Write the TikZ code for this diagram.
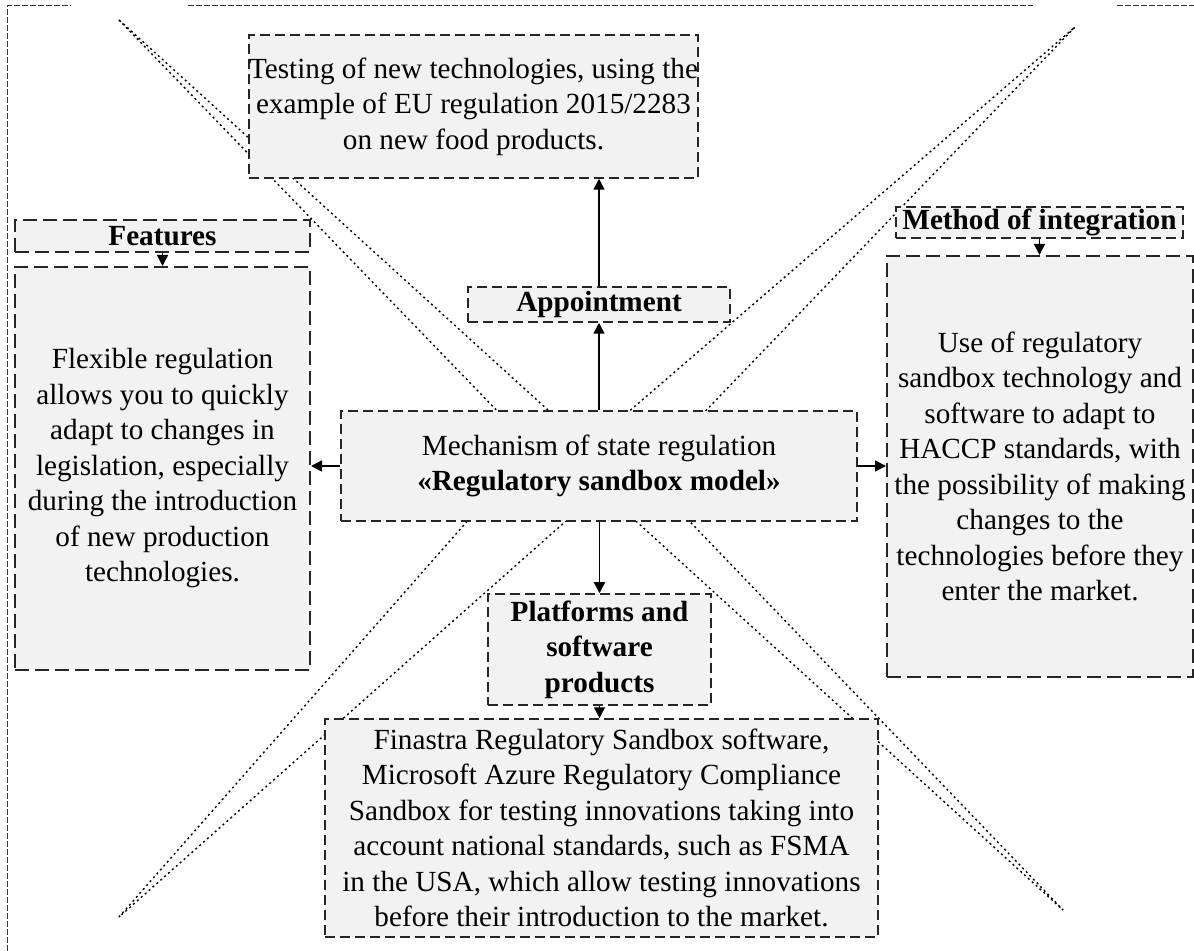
\documentclass[tikz,border=0pt]{standalone}
\usepackage{fontspec}
\setmainfont{Liberation Serif}
\usetikzlibrary{arrows.meta}
\definecolor{boxfill}{HTML}{F2F2F2}
\begin{document}
\begin{tikzpicture}[x=0.5pt,y=-0.5pt,
  every node/.style={font=\fontsize{14.6pt}{17.75pt}\selectfont},
  box/.style={draw=black!85, fill=boxfill, line width=0.75pt, dash pattern=on 5pt off 2.5pt, inner sep=0pt, align=center},
  bigbox/.style={box, line width=1pt, dash pattern=on 7pt off 3pt},
  arr/.style={line width=0.75pt, -{Triangle[length=5.5pt,width=5.5pt]}},
  diag/.style={line width=0.7pt, dash pattern=on 1pt off 1.6pt},
  border/.style={line width=0.5pt, black!80, dash pattern=on 3pt off 1pt}]
\useasboundingbox (0,0) rectangle (1194,951);
% outer border fragments
\draw[border] (7,951) -- (7,6) -- (71,6);
\draw[border] (188,6) -- (1033,6);
\draw[border] (1117,6) -- (1194,6);
% diagonal wedges
\draw[diag] (536,451) -- (118,19) -- (593,451);
\draw[diag] (583,451) -- (1075,27) -- (667,451);
\draw[diag] (529,451) -- (119,917) -- (645,451);
\draw[diag] (559,451) -- (1063,910) -- (622,451);
% boxes
\node[box, minimum width=447*0.5pt, minimum height=143*0.5pt] (top) at (473.5,106.5)
  {Testing of new technologies, using the\\ example of EU regulation 2015/2283\\ on new food products.};
\node[box, minimum width=262*0.5pt, minimum height=35*0.5pt] (app) at (599,304.5)
  {\textbf{Appointment}};
\node[box, minimum width=516*0.5pt, minimum height=110*0.5pt] (mech) at (599,466)
  {Mechanism of state regulation\\ \textbf{«Regulatory sandbox model»}};
\node[bigbox, minimum width=295*0.5pt, minimum height=32*0.5pt] (feath) at (162.5,236)
  {\textbf{Features}};
\node[bigbox, minimum width=295*0.5pt, minimum height=403*0.5pt] (feat) at (162.5,468.5)
  {Flexible regulation\\ allows you to quickly\\ adapt to changes in\\ legislation, especially\\ during the introduction\\ of new production\\ technologies.};
\node[box, minimum width=287*0.5pt, minimum height=31*0.5pt] (methh) at (1039.5,222.5)
  {\textbf{Method of integration}};
\node[bigbox, minimum width=306*0.5pt, minimum height=421*0.5pt] (meth) at (1040,466.5)
  {Use of regulatory\\ sandbox technology and\\ software to adapt to\\ HACCP standards, with\\ the possibility of making\\ changes to the\\ technologies before they\\ enter the market.};
\node[box, minimum width=223*0.5pt, minimum height=111*0.5pt] (plat) at (599.5,649.5)
  {\textbf{Platforms and}\\ \textbf{software}\\ \textbf{products}};
\node[box, minimum width=553*0.5pt, minimum height=218*0.5pt] (soft) at (601.5,828)
  {Finastra Regulatory Sandbox software,\\ Microsoft Azure Regulatory Compliance\\ Sandbox for testing innovations taking into\\ account national standards, such as FSMA\\ in the USA, which allow testing innovations\\ before their introduction to the market.};
% arrows
\draw[arr] (mech.north -| app.south) -- (app.south);
\draw[arr] (app.north) -- (app.north |- top.south);
\draw[arr] (mech.west) -- (mech.west -| feat.east);
\draw[arr] (mech.east) -- (mech.east -| meth.west);
\draw[arr] (mech.south -| plat.north) -- (plat.north);
\draw[arr] (plat.south) -- (plat.south |- soft.north);
\draw[arr] (feath.south) -- (feat.north);
\draw[arr] (methh.south) -- (methh.south |- meth.north);
\end{tikzpicture}
\end{document}
